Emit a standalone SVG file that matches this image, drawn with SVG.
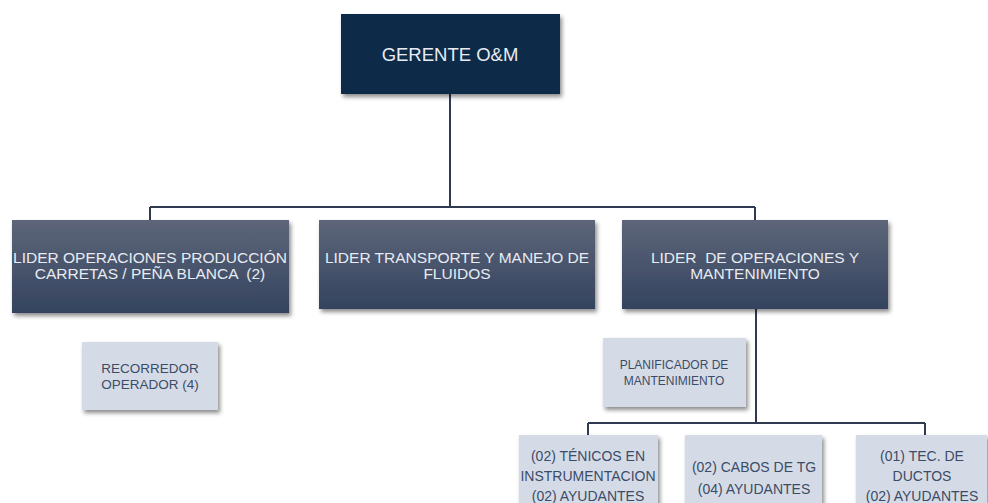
<svg xmlns="http://www.w3.org/2000/svg" width="988" height="503" viewBox="0 0 988 503">
<defs>
<linearGradient id="g" x1="0" y1="0" x2="0" y2="1">
<stop offset="0" stop-color="#5d6679"/>
<stop offset="1" stop-color="#34435f"/>
</linearGradient>
<filter id="sh" x="-10%" y="-10%" width="125%" height="135%">
<feDropShadow dx="2" dy="3" stdDeviation="2" flood-color="#000" flood-opacity="0.45"/>
</filter>
</defs>
<style>
.top{fill:#0d2a4a;filter:url(#sh)}
.mid{fill:url(#g);filter:url(#sh)}
.lt{fill:#d5dbe6;filter:url(#sh)}
text{white-space:pre}
.tw{font-family:"Liberation Sans",Arial,sans-serif;fill:#e8ecf2;text-anchor:middle;font-size:15.5px}
.td{font-family:"Liberation Sans",Arial,sans-serif;fill:#3b4c68;text-anchor:middle;font-size:14px}
.ln{fill:none;stroke:#2f3a50;stroke-width:2}
</style>
<g id="connectors">
<path class="ln" d="M450 94 V207 M150 207 H755 M150 207 V220 M755 207 V220 M756 309 V423 M588 423 H925 M588 423 V435 M925 423 V435"/>
</g>
<g id="gerente">
<rect class="top" x="341" y="14" width="219" height="80"/>
<text class="tw" x="450" y="61" style="font-size:18.5px">GERENTE O&amp;M</text>
</g>
<g id="lider-produccion">
<rect class="mid" x="12" y="220" width="277" height="93"/>
<text class="tw" x="150" y="263">LIDER OPERACIONES PRODUCCIÓN</text>
<text class="tw" x="150" y="279">CARRETAS / PEÑA BLANCA  (2)</text>
</g>
<g id="lider-transporte">
<rect class="mid" x="319" y="220" width="276" height="89"/>
<text class="tw" x="457" y="263">LIDER TRANSPORTE Y MANEJO DE</text>
<text class="tw" x="457" y="279">FLUIDOS</text>
</g>
<g id="lider-operaciones">
<rect class="mid" x="622" y="220" width="266" height="89"/>
<text class="tw" x="755" y="263">LIDER  DE OPERACIONES Y</text>
<text class="tw" x="755" y="279">MANTENIMIENTO</text>
</g>
<g id="recorredor">
<rect class="lt" x="82" y="342" width="136" height="68"/>
<text class="td" x="150" y="373" style="font-size:13.5px">RECORREDOR</text>
<text class="td" x="150" y="389" style="font-size:13.5px">OPERADOR (4)</text>
</g>
<g id="planificador">
<rect class="lt" x="603" y="338" width="143" height="69"/>
<text class="td" x="674" y="369" style="font-size:12px">PLANIFICADOR DE</text>
<text class="td" x="674" y="385" style="font-size:12px">MANTENIMIENTO</text>
</g>
<g id="tecnicos">
<rect class="lt" x="519" y="435" width="139" height="80"/>
<text class="td" x="588" y="461">(02) TÉNICOS EN</text>
<text class="td" x="588" y="481">INSTRUMENTACION</text>
<text class="td" x="588" y="501">(02) AYUDANTES</text>
</g>
<g id="cabos">
<rect class="lt" x="685" y="435" width="137" height="80"/>
<text class="td" x="754" y="472">(02) CABOS DE TG</text>
<text class="td" x="754" y="494">(04) AYUDANTES</text>
</g>
<g id="tec-ductos">
<rect class="lt" x="856" y="435" width="131" height="80"/>
<text class="td" x="922" y="461">(01) TEC. DE</text>
<text class="td" x="922" y="481">DUCTOS</text>
<text class="td" x="922" y="501">(02) AYUDANTES</text>
</g>
</svg>
